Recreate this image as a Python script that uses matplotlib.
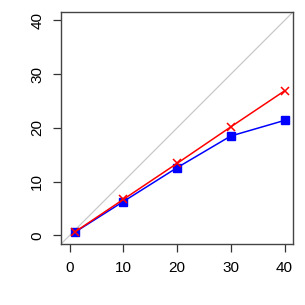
import numpy as np
import matplotlib
matplotlib.use("Agg")
import matplotlib.pyplot as plt

plt.rcParams['font.family'] = ['Liberation Sans', 'DejaVu Sans']

# x positions and the two series
x = [1, 10, 20, 30, 40]
red_vals = [0.65, 6.7, 13.4, 20.2, 26.9]
blue_vals = [0.6, 6.3, 12.6, 18.5, 21.4]
ticks = [0, 10, 20, 30, 40]

fig = plt.figure(figsize=(3.05, 3.05), dpi=100)
ax = fig.add_axes([0.2, 0.2, 0.761, 0.761])

lims = (-1.6, 41.6)
ax.plot(lims, lims, color='#c8c8c8', lw=0.9, zorder=1)
ax.plot(x, red_vals, color='#ff0000', lw=1.1, marker='x', ms=6, mew=1.1, zorder=3)
ax.plot(x, blue_vals, color='#0000ff', lw=1.1, marker='s', ms=5.5, zorder=2)

ax.set_xlim(lims)
ax.set_ylim(lims)
ax.set_xticks(ticks)
ax.set_yticks(ticks)
ax.tick_params(direction='out', length=6, width=0.9, color='#333333',
               labelsize=11, pad=6)
for lab in ax.get_yticklabels():
    lab.set_rotation(90)
    lab.set_va('center')
for s in ax.spines.values():
    s.set_color('#444444')
    s.set_linewidth(1.0)

fig.savefig('out.png', dpi=100)
